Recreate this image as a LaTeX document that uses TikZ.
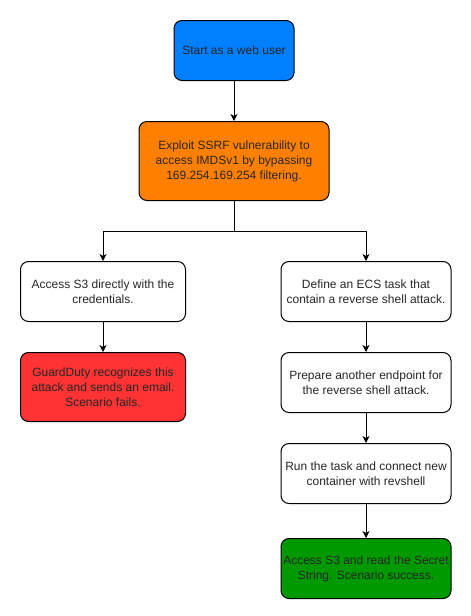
\documentclass[tikz,border=0pt]{standalone}
\usepackage{fontspec}
\setmainfont{Liberation Sans}
\usetikzlibrary{positioning}
\usetikzlibrary{arrows.meta}
\definecolor{startblue}{HTML}{007FFF}
\definecolor{exploitorange}{HTML}{FF8000}
\definecolor{failred}{HTML}{FF3333}
\definecolor{successgreen}{HTML}{009900}

\begin{document}
\begin{tikzpicture}[>={Stealth[length=7pt,width=7pt,inset=2pt]}, line width=1pt,
	nodes={draw, rounded corners=8pt, align=center, text=black!85,
		font=\fontsize{12pt}{15pt}\selectfont, minimum height=60pt, inner sep=0pt}]
		\useasboundingbox[draw=none] (0,0) rectangle (471pt,-616pt);
		\node (start) [fill=startblue, minimum width=120pt] at (234pt,-50.5pt) {Start as a web user};
		\node (exploit) [below=40pt of start, fill=exploitorange, minimum width=190pt, minimum height=79pt]
			{Exploit SSRF vulnerability to\\access IMDSv1 by bypassing\\169.254.169.254 filtering.};
		\node (s3direct) [below=60pt of exploit, xshift=-131pt, minimum width=165pt]
			{Access S3 directly with the\\credentials.};
		\node (guardduty) [below=30pt of s3direct, fill=failred, minimum width=165pt, minimum height=69pt]
			{GuardDuty recognizes this\\attack and sends an email.\\Scenario fails.};
		\node (ecstask) [below=60pt of exploit, xshift=132pt, minimum width=170pt]
			{Define an ECS task that\\contain a reverse shell attack.};
		\node (endpoint) [below=30pt of ecstask, minimum width=170pt]
			{Prepare another endpoint for\\the reverse shell attack.};
		\node (runtask) [below=30pt of endpoint, minimum width=170pt]
			{Run the task and connect new\\container with revshell};
		\node (success) [below=34pt of runtask, fill=successgreen, minimum width=170pt]
			{Access S3 and read the Secret\\String. Scenario success.};
		\draw[->] (start) -- (exploit);
		\draw[->] (exploit.south) -- ++(0,-30pt) -| (s3direct);
		\draw[->] (exploit.south) -- ++(0,-30pt) -| (ecstask);
		\draw[->] (s3direct) -- (guardduty);
		\draw[->] (ecstask) -- (endpoint);
		\draw[->] (endpoint) -- (runtask);
		\draw[->] (runtask) -- (success);
\end{tikzpicture}
\end{document}
